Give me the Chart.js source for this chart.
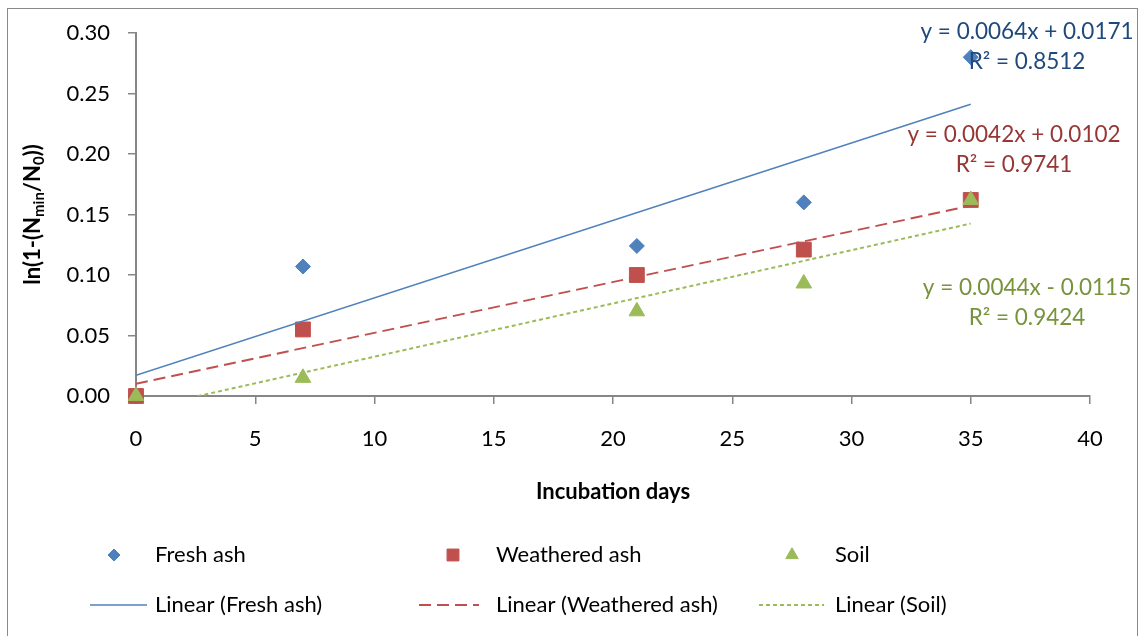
<!DOCTYPE html>
<html>
<head>
<meta charset="utf-8">
<script src="https://cdn.jsdelivr.net/npm/chart.js@4/dist/chart.umd.min.js"></script>
<style>
  html, body { margin: 0; padding: 0; background: #fff; overflow: hidden; }
  #wrap { width: 1141px; height: 636px; position: relative; }
</style>
</head>
<body>
<div id="wrap"><canvas id="chart" width="1141" height="636"></canvas></div>
<script>
// Incubation sampling days and measured ln(1-(Nmin/N0)) per material
const incubationDays = [0, 7, 21, 28, 35];
const freshAsh = [0, 0.107, 0.124, 0.160, 0.280];
const weatheredAsh = [0, 0.055, 0.100, 0.121, 0.162];
const soil = [0, 0.015, 0.070, 0.093, 0.162];
const seriesNames = ['Fresh ash', 'Weathered ash', 'Soil'];

// Linear trend lines (y = slope*x + intercept) and their R²
const trendSlopes = [0.0064, 0.0042, 0.0044];
const trendIntercepts = [0.0171, 0.0102, -0.0115];
const trendR2 = [0.8512, 0.9741, 0.9424];
const trendSpan = [0, 35];

// Axis ticks
const xTickValues = [0, 5, 10, 15, 20, 25, 30, 35, 40];
const yTickValues = [0, 0.05, 0.10, 0.15, 0.20, 0.25, 0.30];

const FONT = 'Lato, "Noto Sans", sans-serif';
const seriesColours = ['#4F81BD', '#C0504D', '#9BBB59'];
const equationColours = ['#1F497D', '#953735', '#77933C'];
const AXIS_GREY = '#868686';

const toPoints = ys => incubationDays.map((x, i) => ({ x, y: ys[i] }));
const trendPoints = i => trendSpan.map(x => ({ x, y: trendSlopes[i] * x + trendIntercepts[i] }));

const markerStyles = [
  { pointStyle: 'rectRot', pointRadius: 7.5 },
  { pointStyle: 'rect', pointRadius: 10.5 },
  { pointStyle: 'triangle', pointRadius: 9 }
];
const trendDashes = [[], [12, 6], [4, 3]];
const trendWidths = [1.5, 2, 2];

const seriesValues = [freshAsh, weatheredAsh, soil];

const markerSets = seriesValues.map((ys, i) => ({
  label: seriesNames[i],
  data: toPoints(ys),
  showLine: false,
  clip: false,
  pointStyle: markerStyles[i].pointStyle,
  pointRadius: markerStyles[i].pointRadius,
  pointHoverRadius: markerStyles[i].pointRadius,
  backgroundColor: seriesColours[i],
  borderColor: seriesColours[i],
  pointBorderWidth: 1,
  order: 3 - i
}));

const trendSets = seriesValues.map((ys, i) => ({
  label: 'Linear (' + seriesNames[i] + ')',
  data: trendPoints(i),
  showLine: true,
  pointRadius: 0,
  pointHoverRadius: 0,
  borderColor: seriesColours[i],
  backgroundColor: seriesColours[i],
  borderWidth: trendWidths[i],
  borderDash: trendDashes[i],
  fill: false,
  tension: 0,
  order: -1 - i
}));

// White page with the grey outline of the chart object
const framePlugin = {
  id: 'frame',
  beforeDraw(chart) {
    const ctx = chart.ctx;
    ctx.save();
    ctx.fillStyle = '#fff';
    ctx.fillRect(0, 0, chart.width, chart.height);
    ctx.strokeStyle = '#8a8a8a';
    ctx.lineWidth = 1;
    ctx.strokeRect(7.5, 8.5, 1130, chart.height + 20);
    ctx.restore();
  }
};

// Axis titles; the y title carries subscripts so it is set piece by piece
const axisTitlePlugin = {
  id: 'axisTitles',
  afterDraw(chart) {
    const ctx = chart.ctx;
    const area = chart.chartArea;
    ctx.save();
    ctx.fillStyle = '#000';
    ctx.textBaseline = 'middle';
    ctx.textAlign = 'center';
    ctx.font = 'bold 22px ' + FONT;
    ctx.fillText('Incubation days', (area.left + area.right) / 2, 492);

    const parts = [
      { t: 'ln(1-(N', sub: false },
      { t: 'min', sub: true },
      { t: '/N', sub: false },
      { t: '0', sub: true },
      { t: '))', sub: false }
    ];
    const mainFont = 'bold 22px ' + FONT;
    const subFont = 'bold 15px ' + FONT;
    let total = 0;
    parts.forEach(p => { ctx.font = p.sub ? subFont : mainFont; p.w = ctx.measureText(p.t).width; total += p.w; });
    ctx.translate(32, (area.top + area.bottom) / 2);
    ctx.rotate(-Math.PI / 2);
    ctx.textAlign = 'left';
    ctx.textBaseline = 'alphabetic';
    let x = -total / 2;
    parts.forEach(p => {
      ctx.font = p.sub ? subFont : mainFont;
      ctx.fillText(p.t, x, p.sub ? 12 : 8);
      x += p.w;
    });
    ctx.restore();
  }
};

// Trend line equations and R² beside the line ends
const equationPlugin = {
  id: 'equations',
  afterDraw(chart) {
    const ctx = chart.ctx;
    const spots = [
      { x: 1027, y: 32, dy: 30 },
      { x: 1014, y: 135, dy: 30 },
      { x: 1027, y: 288, dy: 30 }
    ];
    ctx.save();
    ctx.textAlign = 'center';
    ctx.textBaseline = 'middle';
    ctx.font = '22.5px ' + FONT;
    trendSlopes.forEach((m, i) => {
      const b = trendIntercepts[i];
      const eq = 'y = ' + m.toFixed(4) + 'x ' + (b < 0 ? '- ' : '+ ') + Math.abs(b).toFixed(4);
      ctx.fillStyle = equationColours[i];
      ctx.fillText(eq, spots[i].x, spots[i].y);
      ctx.fillText('R² = ' + trendR2[i].toFixed(4), spots[i].x, spots[i].y + spots[i].dy);
    });
    ctx.restore();
  }
};

// Two-row legend: markers on top, trend lines beneath
const legendPlugin = {
  id: 'gridLegend',
  afterDraw(chart) {
    const ctx = chart.ctx;
    const markerX = [114, 453, 792];
    const textX = [155, 496, 835];
    const lineFrom = [90, 419, 759];
    const lineTo = [147, 479, 824];
    const rowY = [555, 605];
    ctx.save();
    ctx.font = '22px ' + FONT;
    ctx.textBaseline = 'middle';
    ctx.textAlign = 'left';
    markerSets.forEach((ds, i) => {
      ctx.fillStyle = ds.backgroundColor;
      ctx.strokeStyle = ds.borderColor;
      ctx.lineWidth = 1;
      Chart.helpers.drawPoint(ctx, {
        pointStyle: ds.pointStyle,
        radius: ds.pointRadius * 0.8,
        rotation: 0,
        borderWidth: 1
      }, markerX[i], rowY[0]);
      ctx.fillStyle = '#000';
      ctx.fillText(ds.label, textX[i], rowY[0]);
    });
    trendSets.forEach((ds, i) => {
      ctx.strokeStyle = ds.borderColor;
      ctx.lineWidth = ds.borderWidth;
      ctx.setLineDash(ds.borderDash);
      ctx.beginPath();
      ctx.moveTo(lineFrom[i], rowY[1]);
      ctx.lineTo(lineTo[i], rowY[1]);
      ctx.stroke();
      ctx.setLineDash([]);
      ctx.fillStyle = '#000';
      ctx.fillText(ds.label, textX[i], rowY[1]);
    });
    ctx.restore();
  }
};

Chart.defaults.font.family = FONT;
Chart.defaults.color = '#000';

new Chart(document.getElementById('chart'), {
  type: 'scatter',
  data: { datasets: [...markerSets, ...trendSets] },
  options: {
    responsive: false,
    animation: false,
    devicePixelRatio: 1,
    layout: { padding: { left: 0, top: 33, right: 51, bottom: 0 } },
    plugins: {
      legend: { display: false },
      tooltip: { enabled: false },
      title: { display: false }
    },
    scales: {
      x: {
        type: 'linear',
        min: xTickValues[0],
        max: xTickValues[xTickValues.length - 1],
        afterBuildTicks: s => { s.ticks = xTickValues.map(v => ({ value: v })); },
        afterFit: s => { s.height = 240; },
        border: { display: true, color: AXIS_GREY, width: 2 },
        grid: { drawOnChartArea: false, drawTicks: true, tickLength: 8, color: AXIS_GREY, lineWidth: 1.5 },
        ticks: { font: { size: 22 }, padding: 22, maxRotation: 0, callback: v => String(v) }
      },
      y: {
        type: 'linear',
        min: yTickValues[0],
        max: yTickValues[yTickValues.length - 1],
        afterBuildTicks: s => { s.ticks = yTickValues.map(v => ({ value: v })); },
        afterFit: s => { s.width = 136; },
        border: { display: true, color: AXIS_GREY, width: 2 },
        grid: { drawOnChartArea: false, drawTicks: true, tickLength: 8, color: AXIS_GREY, lineWidth: 1.5 },
        ticks: { font: { size: 22 }, padding: 18, callback: v => Number(v).toFixed(2) }
      }
    }
  },
  plugins: [framePlugin, axisTitlePlugin, equationPlugin, legendPlugin]
});
</script>
</body>
</html>
